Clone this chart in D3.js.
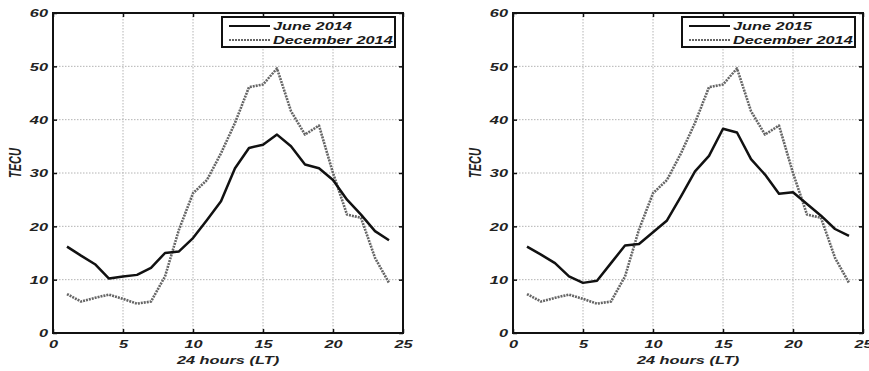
<!DOCTYPE html>
<html>
<head>
<meta charset="utf-8">
<script src="https://d3js.org/d3.v7.min.js"></script>
<style>
  body { margin: 0; background: #fff; }
  svg { display: block; font-family: "Liberation Sans", Arial, sans-serif; }
  .tick text { font-weight: bold; font-style: italic; font-size: 11.5px; fill: #222; }
</style>
</head>
<body>
<svg id="chart" width="869" height="371"></svg>
<script>
// hours of day (LT)
const hours = [1,2,3,4,5,6,7,8,9,10,11,12,13,14,15,16,17,18,19,20,21,22,23,24];

// TECU values
const june2014 = [16.2,14.5,12.9,10.2,10.6,10.9,12.2,15.0,15.3,17.8,21.2,24.7,30.9,34.7,35.3,37.2,35.0,31.6,30.9,28.7,25.0,22.2,19.1,17.4];
const june2015 = [16.2,14.7,13.1,10.6,9.4,9.8,13.1,16.4,16.7,18.9,21.1,25.6,30.3,33.2,38.3,37.6,32.6,29.7,26.1,26.4,24.2,22.0,19.5,18.2];
const dec2014  = [7.3,5.9,6.6,7.2,6.4,5.5,5.9,10.6,19.4,26.2,28.7,33.7,39.4,46.1,46.6,49.6,41.6,37.2,38.9,30.0,22.2,21.6,14.1,9.4];

const xTicks = [0,5,10,15,20,25];
const yTicks = [0,10,20,30,40,50,60];

// the source figure is stretched sideways, so text is widened too
const sx = 1.42;

const svg = d3.select('#chart');

function drawPanel(left, juneLabel, juneValues) {
	const w = 350, h = 320, top = 13;
	const g = svg.append('g').attr('transform', `translate(${left},${top})`);
	const x = d3.scaleLinear().domain([0, 25]).range([0, w]);
	const y = d3.scaleLinear().domain([0, 60]).range([h, 0]);

	// dotted grid
	g.selectAll('line.gx').data(xTicks.slice(1, -1)).enter().append('line')
		.attr('x1', d => x(d)).attr('x2', d => x(d)).attr('y1', 0).attr('y2', h)
		.attr('stroke', '#b4b4b4').attr('stroke-width', 1).attr('stroke-dasharray', '1.5,1.5');
	g.selectAll('line.gy').data(yTicks.slice(1, -1)).enter().append('line')
		.attr('y1', d => y(d)).attr('y2', d => y(d)).attr('x1', 0).attr('x2', w)
		.attr('stroke', '#b4b4b4').attr('stroke-width', 1).attr('stroke-dasharray', '1.5,1.5');

	// axes with inward ticks
	const xa = g.append('g').attr('transform', `translate(0,${h})`)
		.call(d3.axisBottom(x).tickValues(xTicks).tickSizeInner(-4).tickSizeOuter(0).tickPadding(6));
	const ya = g.append('g')
		.call(d3.axisLeft(y).tickValues(yTicks).tickSizeInner(-4).tickSizeOuter(0));
	g.append('g').call(d3.axisTop(x).tickValues(xTicks).tickSizeInner(-4).tickSizeOuter(0).tickFormat(''));
	g.append('g').attr('transform', `translate(${w},0)`)
		.call(d3.axisRight(y).tickValues(yTicks).tickSizeInner(-4).tickSizeOuter(0).tickFormat(''));
	g.selectAll('.domain').remove();
	g.selectAll('.tick line').attr('stroke', '#111').attr('stroke-width', 1.5);
	xa.selectAll('.tick text').attr('dy', '0.9em').attr('y', 5)
		.attr('transform', `scale(${sx},1)`);
	ya.selectAll('.tick text').attr('x', -5 / sx)
		.attr('transform', `scale(${sx},1)`);

	// frame
	g.append('rect').attr('width', w).attr('height', h)
		.attr('fill', 'none').attr('stroke', '#111').attr('stroke-width', 2);

	const line = d3.line().x((d, i) => x(hours[i])).y(d => y(d));

	g.append('path').datum(dec2014).attr('d', line)
		.attr('fill', 'none').attr('stroke', '#666').attr('stroke-width', 2.6)
		.attr('stroke-dasharray', '2,1').attr('stroke-linejoin', 'round');
	g.append('path').datum(juneValues).attr('d', line)
		.attr('fill', 'none').attr('stroke', '#111').attr('stroke-width', 2.5)
		.attr('stroke-linejoin', 'round');

	// legend
	const lw = 173, lh = 30;
	const lg = g.append('g').attr('transform', `translate(${w - lw - 8},4)`);
	lg.append('rect').attr('width', lw).attr('height', lh)
		.attr('fill', '#fff').attr('stroke', '#111').attr('stroke-width', 2);
	const items = [[juneLabel, '#111', null], ['December 2014', '#666', '2,1']];
	items.forEach((it, i) => {
		const yy = 9 + i * 14;
		lg.append('line').attr('x1', 7).attr('x2', 48).attr('y1', yy).attr('y2', yy)
			.attr('stroke', it[1]).attr('stroke-width', 2).attr('stroke-dasharray', it[2]);
		lg.append('text').attr('transform', `translate(51,${yy}) scale(${sx},1)`)
			.attr('dy', '0.36em')
			.attr('font-size', 11.5).attr('font-style', 'italic').attr('font-weight', 'bold')
			.attr('fill', '#1a1a1a').text(it[0]);
	});

	// axis titles
	g.append('text').attr('transform', `translate(${w / 2},${h + 27}) scale(${sx},1)`)
		.attr('dy', '0.35em')
		.attr('text-anchor', 'middle').attr('font-size', 11.5).attr('font-style', 'italic')
		.attr('font-weight', 600).attr('fill', '#222').text('24 hours (LT)');
	g.append('text').attr('transform', `translate(-37,${h / 2 - 10}) scale(${sx},1) rotate(-90)`)
		.attr('dy', '0.35em')
		.attr('text-anchor', 'middle').attr('font-size', 11).attr('font-style', 'italic')
		.attr('font-weight', 600).attr('fill', '#222').text('TECU');
}

drawPanel(53, 'June 2014', june2014);
drawPanel(513, 'June 2015', june2015);
</script>
</body>
</html>
